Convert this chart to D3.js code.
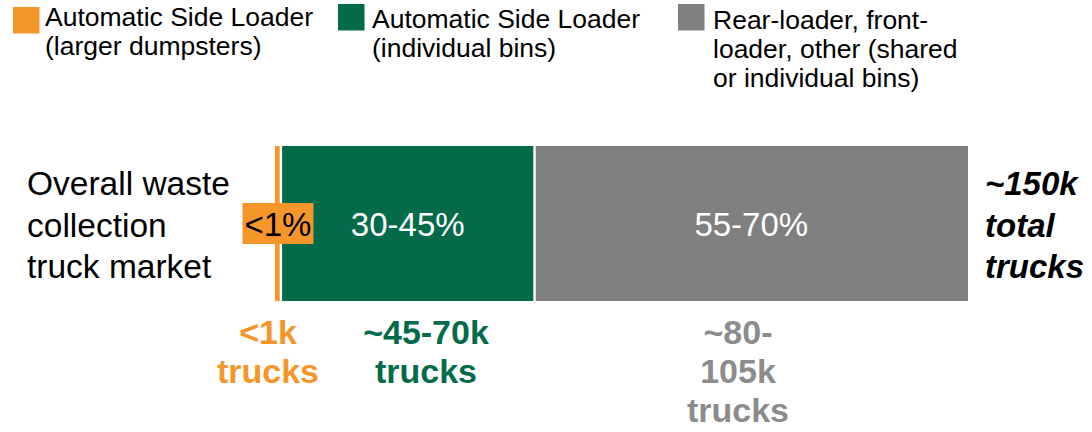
<!DOCTYPE html>
<html>
<head>
<meta charset="utf-8">
<script src="https://cdn.jsdelivr.net/npm/d3@7"></script>
<style>
  html, body { margin: 0; padding: 0; background: #fff; }
  svg { display: block; font-family: "Liberation Sans", Arial, sans-serif; }
</style>
</head>
<body>
<svg id="chart" width="1092" height="432"></svg>
<script>
// Market share of waste collection trucks by loader type (% of ~150k trucks)
const categories = [
  "Automatic Side Loader (larger dumpsters)",
  "Automatic Side Loader (individual bins)",
  "Rear-loader, front-loader, other (shared or individual bins)"
];
const shareValues = [0.85, 36.6, 62.55];
const shareLabels = ["<1%", "30-45%", "55-70%"];
const truckLabels = [["<1k", "trucks"], ["~45-70k", "trucks"], ["~80-", "105k", "trucks"]];
const legendLines = [
  ["Automatic Side Loader", "(larger dumpsters)"],
  ["Automatic Side Loader", "(individual bins)"],
  ["Rear-loader, front-", "loader, other (shared", "or individual bins)"]
];
const rowLabel = ["Overall waste", "collection", "truck market"];
const totalLabel = ["~150k", "total", "trucks"];

const colors = ["#F5962A", "#036B4A", "#808080"];
const textColors = ["#F5962A", "#036B4A", "#8C8C8C"];

const svg = d3.select("#chart");

// Cumulative stack of the shares
let acc = 0;
const stack = shareValues.map((v, i) => {
  const s = { i, x0: acc, x1: acc + v, value: v };
  acc += v;
  return s;
});

const x = d3.scaleLinear().domain([0, 100]).range([275, 968]);
const y = d3.scaleBand().domain(["market"]).range([146, 301]).padding(0);

// Bar segments
svg.selectAll("rect.seg")
  .data(stack)
  .join("rect")
  .attr("class", "seg")
  .attr("x", d => x(d.x0))
  .attr("y", y("market"))
  .attr("width", d => x(d.x1) - x(d.x0))
  .attr("height", y.bandwidth())
  .attr("fill", d => colors[d.i]);

// White separators between segments
svg.selectAll("line.sep")
  .data(stack.slice(1))
  .join("line")
  .attr("class", "sep")
  .attr("x1", d => x(d.x0)).attr("x2", d => x(d.x0))
  .attr("y1", y("market")).attr("y2", y("market") + y.bandwidth())
  .attr("stroke", "#fff")
  .attr("stroke-width", 2.4);

const midY = y("market") + y.bandwidth() / 2;

// Share labels inside the bar
stack.forEach(d => {
  const cx = (x(d.x0) + x(d.x1)) / 2;
  if (d.i === 0) {
    const t = svg.append("text")
      .attr("x", cx).attr("y", midY + 12)
      .attr("text-anchor", "middle")
      .attr("font-size", 33)
      .attr("fill", "#000")
      .text(shareLabels[d.i]);
    const bb = t.node().getBBox();
    svg.insert("rect", () => t.node())
      .attr("x", bb.x - 2).attr("y", 203)
      .attr("width", bb.width + 4).attr("height", 41)
      .attr("fill", colors[0]);
  } else {
    svg.append("text")
      .attr("x", cx).attr("y", midY + 12)
      .attr("text-anchor", "middle")
      .attr("font-size", 33)
      .attr("fill", "#fff")
      .text(shareLabels[d.i]);
  }
});

// Row label on the left
const rowText = svg.append("text")
  .attr("x", 27).attr("font-size", 33.5).attr("fill", "#000");
rowLabel.forEach((l, k) => {
  rowText.append("tspan").attr("x", 27).attr("y", 195 + k * 41.5).text(l);
});

// Total on the right
const totText = svg.append("text")
  .attr("font-size", 33).attr("font-weight", "bold").attr("font-style", "italic")
  .attr("fill", "#000");
totalLabel.forEach((l, k) => {
  totText.append("tspan").attr("x", 985).attr("y", 195 + k * 41.5).text(l);
});

// Truck count labels below the bar
const truckX = [268, 426, 738];
truckLabels.forEach((lines, i) => {
  const t = svg.append("text")
    .attr("text-anchor", "middle")
    .attr("font-size", 34).attr("font-weight", "bold")
    .attr("fill", textColors[i]);
  lines.forEach((l, k) => {
    t.append("tspan").attr("x", truckX[i]).attr("y", 344 + k * 39).text(l);
  });
});

// Legend
const legendPos = [
  { sx: 13, sy: 7, tx: 45, ty: 26 },
  { sx: 338, sy: 4, tx: 372, ty: 28 },
  { sx: 678, sy: 4, tx: 713, ty: 29 }
];
categories.forEach((c, i) => {
  const p = legendPos[i];
  const g = svg.append("g").attr("class", "legend-item").attr("data-name", c);
  g.append("rect")
    .attr("x", p.sx).attr("y", p.sy)
    .attr("width", 26.5).attr("height", 26.5)
    .attr("fill", colors[i]);
  const t = g.append("text").attr("font-size", 26.5).attr("fill", "#000");
  legendLines[i].forEach((l, k) => {
    t.append("tspan").attr("x", p.tx).attr("y", p.ty + k * 29).text(l);
  });
});
</script>
</body>
</html>
